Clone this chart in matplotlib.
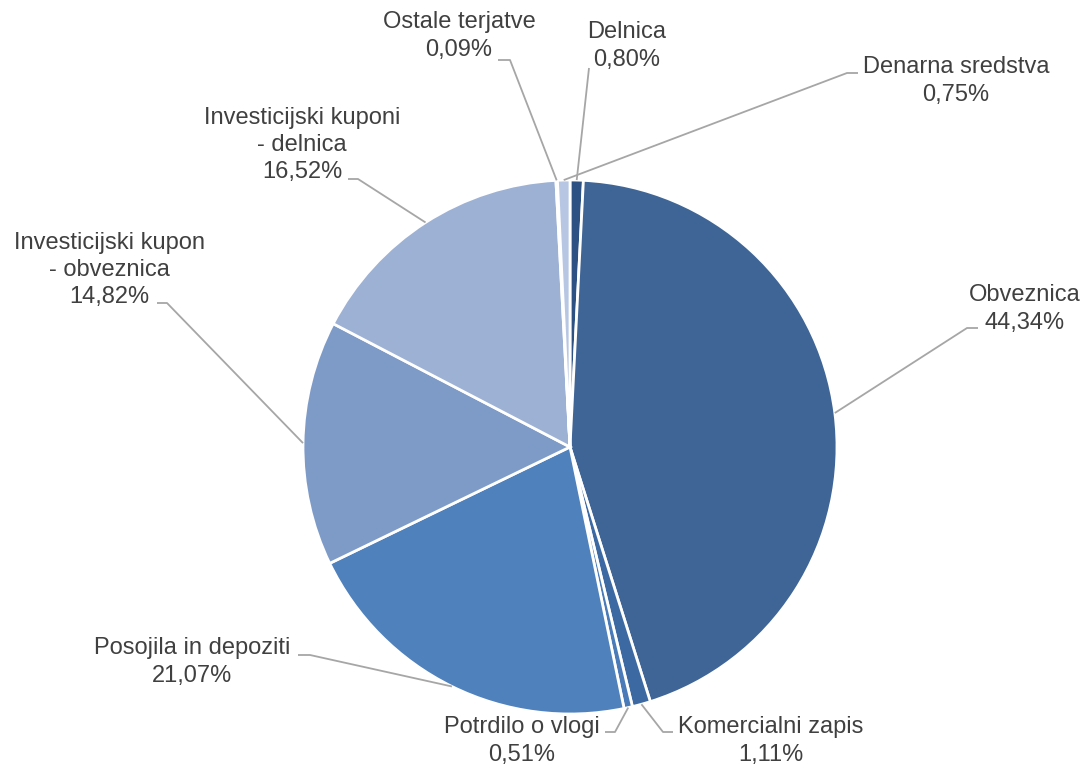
import numpy as np
import matplotlib
matplotlib.use('Agg')
import matplotlib.pyplot as plt

plt.rcParams['font.family'] = ['Liberation Sans', 'DejaVu Sans']

# Podatki (vrstni red v smeri urinega kazalca od vrha)
kategorije = ['Delnica', 'Obveznica', 'Komercialni zapis', 'Potrdilo o vlogi',
              'Posojila in depoziti', 'Investicijski kupon\n- obveznica',
              'Investicijski kuponi\n- delnica', 'Ostale terjatve', 'Denarna sredstva']
deleži = [0.80, 44.34, 1.11, 0.51, 21.07, 14.82, 16.52, 0.09, 0.75]
barve = ['#2D5183', '#3E6596', '#3D69A3', '#4A7BB8', '#4F81BD',
         '#7E9BC8', '#9DB1D4', '#AEC0DF', '#B7C7E3']

# Postavitev oznak (v pikslih slike, y od zgoraj)
oznake_xy = [(627, 46), (1025, 309), (771, 741), (522, 741), (192, 662),
             (109, 270), (302, 145), (459, 36), (956, 81)]
# prelom in konec vodilne črte
vodila = [[(589, 68)],
          [(967, 328), (978, 328)],
          [(663, 732), (673, 732)],
          [(615, 732), (605, 732)],
          [(310, 655), (298, 655)],
          [(167, 303), (157, 303)],
          [(358, 179), (348, 179)],
          [(510, 60), (498, 60)],
          [(847, 73), (858, 73)]]

W, H = 1083, 769
fig = plt.figure(figsize=(W / 100, H / 100), dpi=100)
ax = fig.add_axes([0, 0, 1, 1])

cx, cy, r = 570, H - 447, 267
wedges, _ = ax.pie(deleži, colors=barve, startangle=90, counterclock=False,
                   center=(cx, cy), radius=r, frame=True,
                   wedgeprops=dict(edgecolor='white', linewidth=2))
ax.set_xlim(0, W)
ax.set_ylim(0, H)
ax.set_aspect('equal')
ax.axis('off')

for w, ime, v, (tx, ty), pot in zip(wedges, kategorije, deleži, oznake_xy, vodila):
    kot = np.deg2rad((w.theta1 + w.theta2) / 2)
    x0 = cx + r * np.cos(kot)
    y0 = cy + r * np.sin(kot)
    xs = [x0] + [p[0] for p in pot]
    ys = [y0] + [H - p[1] for p in pot]
    ax.plot(xs, ys, color='#A6A6A6', lw=1.3, solid_capstyle='butt')
    besedilo = ime + '\n' + f'{v:.2f}'.replace('.', ',') + '%'
    ax.text(tx, H - ty, besedilo, ha='center', va='center', fontsize=17,
            color='#404040', linespacing=1.32)

fig.savefig('out.png', dpi=100)
